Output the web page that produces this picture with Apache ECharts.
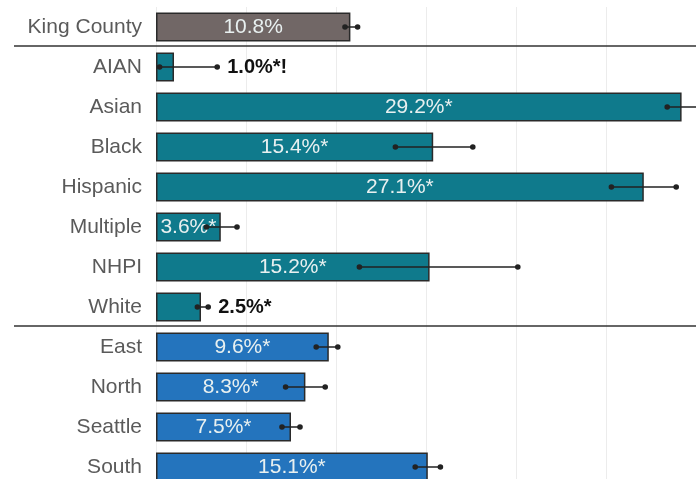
<!DOCTYPE html>
<html>
<head>
<meta charset="utf-8">
<style>
  html, body { margin: 0; padding: 0; background: #fff; }
  #chart { width: 696px; height: 479px; }
</style>
<script src="https://cdn.jsdelivr.net/npm/echarts@6/dist/echarts.min.js"></script>
</head>
<body>
<div id="chart"></div>
<script>
// data
const categories = ['King County', 'AIAN', 'Asian', 'Black', 'Hispanic', 'Multiple', 'NHPI', 'White', 'East', 'North', 'Seattle', 'South']
const groups = ['county', 'race', 'race', 'race', 'race', 'race', 'race', 'race', 'region', 'region', 'region', 'region']
const values = [10.8, 1.0, 29.2, 15.4, 27.1, 3.6, 15.2, 2.5, 9.6, 8.3, 7.5, 15.1]
const lower = [10.5, 0.2, 28.4, 13.3, 25.3, 2.8, 11.3, 2.3, 8.9, 7.2, 7.0, 14.4]
const upper = [11.2, 3.4, 30.3, 17.6, 28.9, 4.5, 20.1, 2.9, 10.1, 9.4, 8.0, 15.8]
const flags = ['', '*!', '*', '*', '*', '*', '*', '*', '*', '*', '*', '*']
const outsideLabel = ['AIAN', 'White']
const separatorsAfter = ['King County', 'White']

const colors = {
  county: '#716766',
  race: '#0f7a8c',
  region: '#2474bd'
}
const FONT = '"Liberation Sans", Arial, sans-serif'

const labelText = (i) => values[i].toFixed(1) + '%' + flags[i]

const chart = echarts.init(document.getElementById('chart'))

chart.setOption({
  animation: false,
  grid: {
    left: 156,
    right: 0,
    top: 7,
    height: 480,
    outerBoundsMode: 'none',
    containLabel: false
  },
  xAxis: {
    type: 'value',
    min: 0,
    max: 30,
    interval: 5,
    axisLine: { show: false },
    axisTick: { show: false },
    axisLabel: { show: false },
    splitLine: { lineStyle: { color: '#ececec', width: 1 } }
  },
  yAxis: {
    type: 'category',
    inverse: true,
    data: categories,
    axisLine: { show: false },
    axisTick: { show: false },
    axisLabel: {
      fontFamily: FONT,
      fontSize: 21,
      color: '#5a5a5a',
      margin: 14,
      padding: [0, 0, 5, 0]
    }
  },
  series: [
    {
      type: 'bar',
      barWidth: 29,
      data: values.map((v, i) => ({
        value: v,
        itemStyle: { color: colors[groups[i]] },
        label: { show: !outsideLabel.includes(categories[i]) }
      })),
      itemStyle: { borderColor: '#2a2a2a', borderWidth: 1.5 },
      label: {
        position: 'inside',
        fontFamily: FONT,
        fontSize: 21,
        color: '#e8f0f0',
        formatter: (p) => labelText(p.dataIndex)
      },
      z: 2
    },
    {
      // error bars
      type: 'custom',
      clip: false,
      z: 5,
      encode: { x: [0, 1], y: 2 },
      data: categories.map((c, i) => [lower[i], upper[i], i]),
      renderItem: (params, api) => {
        const i = api.value(2)
        const p0 = api.coord([api.value(0), i])
        const p1 = api.coord([api.value(1), i])
        const children = [
          { type: 'line', shape: { x1: p0[0], y1: p0[1], x2: p1[0], y2: p1[1] }, style: { stroke: '#222', lineWidth: 1.5 } },
          { type: 'circle', shape: { cx: p0[0], cy: p0[1], r: 2.8 }, style: { fill: '#222' } },
          { type: 'circle', shape: { cx: p1[0], cy: p1[1], r: 2.8 }, style: { fill: '#222' } }
        ]
        if (outsideLabel.includes(categories[i])) {
          children.push({
            type: 'text',
            style: {
              x: p1[0] + 10,
              y: p1[1],
              text: labelText(i),
              fill: '#111',
              font: 'bold 20px ' + FONT,
              verticalAlign: 'middle',
              align: 'left'
            }
          })
        }
        return { type: 'group', children }
      }
    },
    {
      // group separators
      type: 'custom',
      clip: false,
      z: 6,
      encode: { x: 0, y: 1 },
      data: separatorsAfter.map((c) => [0, categories.indexOf(c)]),
      renderItem: (params, api) => {
        const cs = params.coordSys
        const y = api.coord([0, api.value(1)])[1] + api.size([0, 1])[1] / 2 - 1
        return {
          type: 'line',
          shape: { x1: cs.x - 142, y1: y, x2: cs.x + cs.width, y2: y },
          style: { stroke: '#333', lineWidth: 1.5 }
        }
      }
    }
  ]
})
</script>
</body>
</html>
